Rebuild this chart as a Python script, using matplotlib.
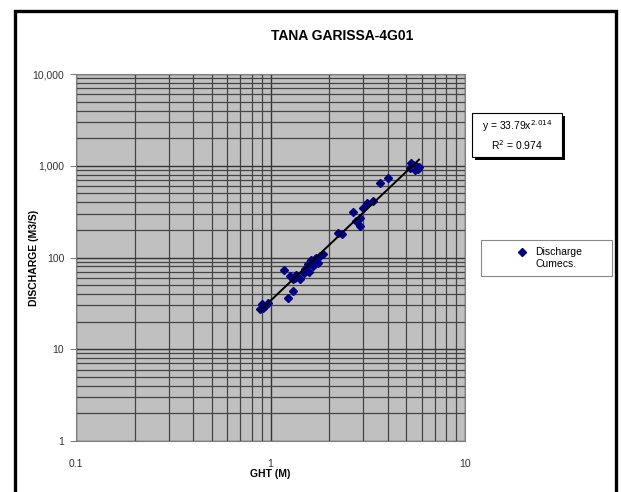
import matplotlib
matplotlib.use("Agg")
import matplotlib.pyplot as plt
import matplotlib.patches as mpatches
import matplotlib.ticker as mticker
import numpy as np

plt.rcParams['font.family'] = ['Liberation Sans', 'DejaVu Sans']

# gauge height (m) and discharge (m3/s)
ght = [0.88, 0.90, 0.94, 0.97, 0.92,
       1.18, 1.23, 1.30, 1.26, 1.34, 1.42, 1.35, 1.30,
       1.50, 1.55, 1.60, 1.65, 1.69, 1.75, 1.80, 1.86, 1.62, 1.72, 1.58, 1.48,
       2.22, 2.33, 2.66, 2.89, 2.89, 2.99, 3.13, 3.36, 2.75,
       3.66, 4.02,
       5.20, 5.40, 5.50, 5.60, 5.80, 5.30, 5.70]
discharge = [27.5, 31, 29.5, 32, 28,
             73, 36, 43, 63, 60, 58, 65, 58,
             75, 85, 88, 80, 96, 88, 104, 110, 95, 100, 70, 68,
             185, 181, 313, 269, 220, 346, 393, 413, 250,
             649, 735,
             950, 1020, 900, 1000, 960, 1060, 930]

# power trendline shown on the chart
coef = 33.79
expo = 2.014
r2 = 0.974

title = "TANA GARISSA-4G01"
xlabel = "GHT (M)"
ylabel = "DISCHARGE (M3/S)"
legend_label = "Discharge\nCumecs."

W, H = 621, 492
fig = plt.figure(figsize=(W / 100, H / 100), dpi=100)

def fx(px):
    return px / W

def fy(py):
    return 1 - py / H

ax = fig.add_axes([fx(76), fy(441), fx(465) - fx(76), fy(74) - fy(441)])
ax.set_facecolor('#c0c0c0')
ax.set_xscale('log')
ax.set_yscale('log')
ax.set_xlim(0.1, 10)
ax.set_ylim(1, 10000)

ax.grid(True, which='major', color='#333333', lw=1.0)
ax.grid(True, which='minor', color='#444444', lw=0.9)
ax.set_axisbelow(True)

ax.xaxis.set_major_locator(mticker.FixedLocator([0.1, 1, 10]))
ax.xaxis.set_major_formatter(mticker.FixedFormatter(['0.1', '1', '10']))
ax.yaxis.set_major_locator(mticker.FixedLocator([1, 10, 100, 1000, 10000]))
ax.yaxis.set_major_formatter(mticker.FixedFormatter(['1', '10', '100', '1,000', '10,000']))
ax.xaxis.set_minor_locator(mticker.LogLocator(base=10, subs=np.arange(2, 10)))
ax.yaxis.set_minor_locator(mticker.LogLocator(base=10, subs=np.arange(2, 10)))
ax.tick_params(which='minor', length=0)
ax.tick_params(axis='y', which='major', length=4.5, color='#808080', labelsize=7.5, colors='#333333', pad=4)
ax.tick_params(axis='x', which='major', length=0, labelsize=7.5, colors='#333333', pad=13)
for s in ax.spines.values():
    s.set_color('#808080')
    s.set_linewidth(0.8)

ax.plot(ght, discharge, linestyle='none', marker='D', ms=3.6, color='#000080', zorder=3)

xs = np.linspace(min(ght), max(ght), 50)
ax.plot(xs, coef * xs ** expo, color='black', lw=1.4, zorder=4)

ax.set_xlabel(xlabel, fontsize=7.5, fontweight='bold')
ax.xaxis.label.set_verticalalignment('center')
ax.xaxis.set_label_coords(0.5, (441 - 474) / 367)
ax.set_ylabel(ylabel, fontsize=7.5, fontweight='bold')
ax.yaxis.label.set_verticalalignment('center')
ax.yaxis.set_label_coords((34 - 76) / 389, 0.5)

fig.text(fx(342), fy(36), title, fontsize=10, fontweight='bold', ha='center', va='center')

# outer chart frame
fig.patches.append(mpatches.Rectangle((fx(15), -0.05), fx(616) - fx(15), fy(11) + 0.05,
                                      transform=fig.transFigure, fill=False, ec='black', lw=2.4))

# trendline equation box with shadow
fig.patches.append(mpatches.Rectangle((fx(475), fy(160)), fx(562) - fx(472), fy(113) - fy(157),
                                      transform=fig.transFigure, fc='black', ec='black', lw=0))
fig.patches.append(mpatches.Rectangle((fx(472), fy(157)), fx(562) - fx(472), fy(113) - fy(157),
                                      transform=fig.transFigure, fc='white', ec='black', lw=0.8))
fig.text(fx(517), fy(126), "y = %.2fx$^{%.3f}$" % (coef, expo), fontsize=7.5, ha='center', va='center')
fig.text(fx(517), fy(145), "R$^2$ = %.3f" % r2, fontsize=7.5, ha='center', va='center')

# legend box
fig.patches.append(mpatches.Rectangle((fx(481), fy(276)), fx(612) - fx(481), fy(240) - fy(276),
                                      transform=fig.transFigure, fc='white', ec='#888888', lw=0.8))
fig.lines.append(plt.Line2D([fx(522)], [fy(252)], transform=fig.transFigure, marker='D',
                            ms=3.6, color='#000080', linestyle='none'))
fig.text(fx(535), fy(258), legend_label, fontsize=7.5, ha='left', va='center', linespacing=1.3)

fig.savefig('out.png', dpi=100)
